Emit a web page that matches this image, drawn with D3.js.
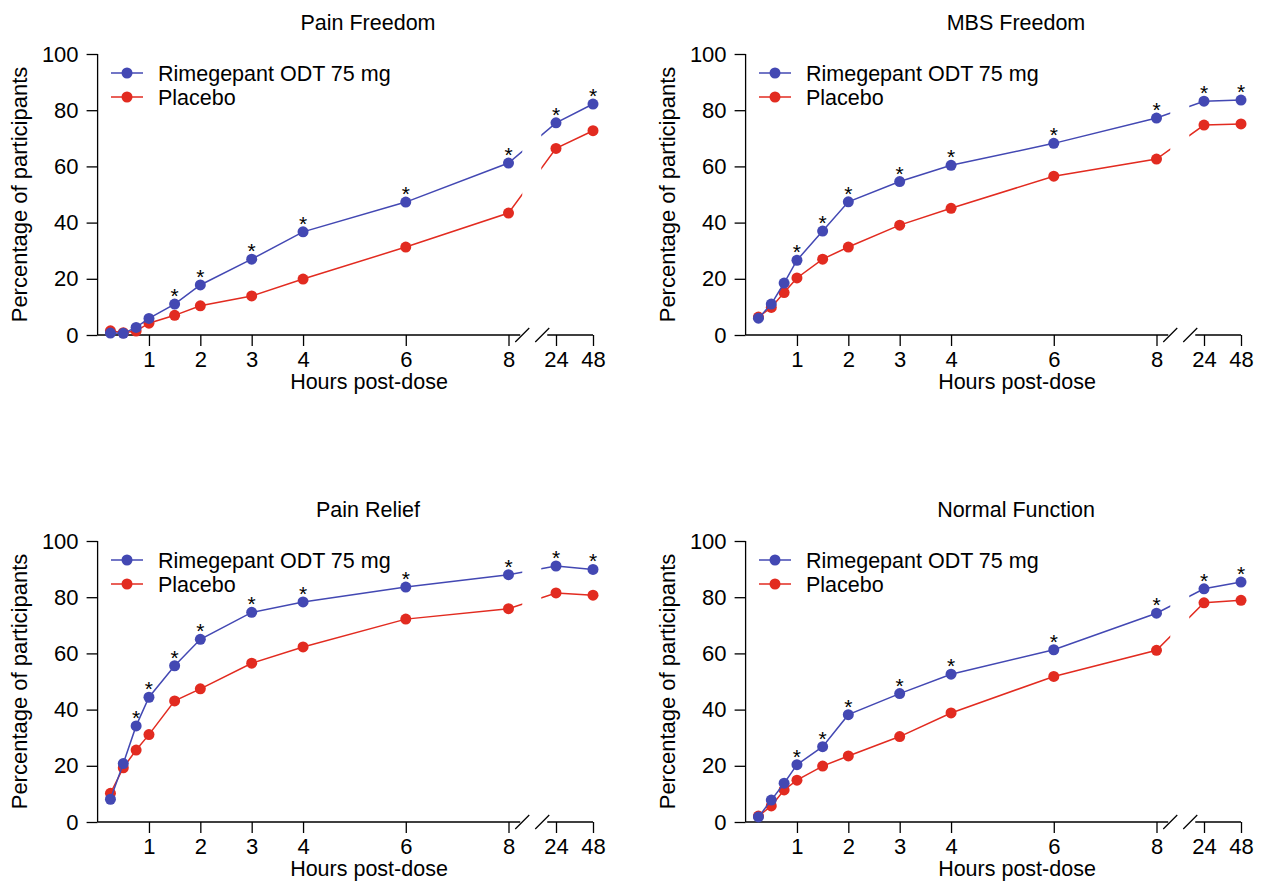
<!DOCTYPE html>
<html>
<head>
<meta charset="utf-8">
<script src="https://cdn.jsdelivr.net/npm/d3@7"></script>
<style>
  body { margin: 0; background: #fff; }
  svg { font-family: "Liberation Sans", Arial, sans-serif; }
</style>
</head>
<body>
<div id="chart"></div>
<script>
const WIDTH = 1266;
const HEIGHT = 881;

const BLUE = '#4348b3';
const RED = '#e22b20';

// time points (hours post-dose)
const hours = [0.25, 0.5, 0.75, 1, 1.5, 2, 3, 4, 6, 8, 24, 48];
const xTicks = [1, 2, 3, 4, 6, 8, 24, 48];
const yTicks = [0, 20, 40, 60, 80, 100];
const seriesNames = ['Rimegepant ODT 75 mg', 'Placebo'];

const titles = ['Pain Freedom', 'MBS Freedom', 'Pain Relief', 'Normal Function'];

// percentage of participants
const painFreedomRim = [0.7, 0.6, 2.7, 5.9, 11.0, 17.8, 27.0, 36.7, 47.3, 61.2, 75.5, 82.2];
const painFreedomPbo = [1.5, 0.8, 1.4, 4.2, 7.0, 10.4, 13.9, 19.9, 31.3, 43.4, 66.4, 72.7];

const mbsFreedomRim = [6.0, 11.0, 18.5, 26.6, 37.0, 47.4, 54.6, 60.4, 68.2, 77.2, 83.2, 83.6];
const mbsFreedomPbo = [6.4, 9.8, 15.1, 20.3, 27.0, 31.3, 39.1, 45.1, 56.5, 62.6, 74.7, 75.1];

const painReliefRim = [8.1, 20.8, 34.2, 44.4, 55.6, 65.0, 74.6, 78.3, 83.6, 88.0, 91.1, 89.9];
const painReliefPbo = [10.2, 19.3, 25.6, 31.1, 43.1, 47.4, 56.5, 62.3, 72.2, 75.9, 81.5, 80.7];

const normalFunctionRim = [1.8, 7.8, 13.8, 20.4, 26.8, 38.2, 45.7, 52.6, 61.3, 74.3, 83.0, 85.4];
const normalFunctionPbo = [2.1, 5.7, 11.4, 14.9, 19.9, 23.5, 30.4, 38.8, 51.8, 61.1, 78.0, 78.9];

// hours with a significance asterisk over the rimegepant point
const painFreedomSig = [1.5, 2, 3, 4, 6, 8, 24, 48];
const mbsFreedomSig = [1, 1.5, 2, 3, 4, 6, 8, 24, 48];
const painReliefSig = [0.75, 1, 1.5, 2, 3, 4, 6, 8, 24, 48];
const normalFunctionSig = [1, 1.5, 2, 3, 4, 6, 8, 24, 48];

const panels = [
    { title: titles[0], rim: painFreedomRim, pbo: painFreedomPbo, sig: painFreedomSig, dx: 0, dy: 0 },
    { title: titles[1], rim: mbsFreedomRim, pbo: mbsFreedomPbo, sig: mbsFreedomSig, dx: 648, dy: 0 },
    { title: titles[2], rim: painReliefRim, pbo: painReliefPbo, sig: painReliefSig, dx: 0, dy: 487 },
    { title: titles[3], rim: normalFunctionRim, pbo: normalFunctionPbo, sig: normalFunctionSig, dx: 648, dy: 487 },
];

var svg = d3.select('#chart')
    .append('svg')
    .attr('width', WIDTH)
    .attr('height', HEIGHT);

// shared scales, each panel is drawn in its own translated group
// the x axis is broken between 8 and 24 hours
var x = d3.scaleLinear()
    .domain([0, 8, 24, 48])
    .range([97.6, 508.5, 556, 593]);

var y = d3.scaleLinear()
    .domain([0, 100])
    .range([335, 54]);

const breakMid = (x(8) + x(24)) / 2;

var line = d3.line()
    .x(d => x(d.h))
    .y(d => y(d.v));

function drawPanel(p, idx) {
    let g = svg.append('g')
        .attr('transform', `translate(${p.dx},${p.dy})`);

    // clip that hides the lines inside the axis break
    let clipId = 'brk' + idx;
    let clip = g.append('clipPath').attr('id', clipId);
    clip.append('rect')
        .attr('x', 0).attr('y', 0)
        .attr('width', breakMid - 10).attr('height', 400);
    clip.append('rect')
        .attr('x', breakMid + 9).attr('y', 0)
        .attr('width', 200).attr('height', 400);

    // title
    g.append('text')
        .attr('x', 368)
        .attr('y', 30)
        .attr('text-anchor', 'middle')
        .attr('font-size', 21.5)
        .text(p.title);

    // y axis
    let yAxis = g.append('g')
        .attr('transform', `translate(${x(0)},0)`)
        .call(d3.axisLeft(y).tickValues(yTicks).tickSize(11).tickPadding(8));
    yAxis.select('.domain').attr('d', `M0,${y(100)}V${y(0)}`);

    // x axis in two pieces
    let xAxis = g.append('g')
        .attr('transform', `translate(0,${y(0)})`)
        .call(d3.axisBottom(x).tickValues(xTicks).tickSize(11).tickPadding(5).tickFormat(d3.format('d')));
    xAxis.select('.domain')
        .attr('d', `M${x(0)},0H${breakMid - 12}M${breakMid + 15},0H${x(48)}`);

    [breakMid - 10, breakMid + 10].forEach(cx => {
        xAxis.append('line')
            .attr('x1', cx - 7).attr('y1', 7)
            .attr('x2', cx + 7).attr('y2', -7)
            .attr('stroke', '#000')
            .attr('stroke-width', 1.3);
    });

    g.selectAll('.tick text')
        .attr('font-size', 22)
        .attr('font-family', '"Liberation Sans", Arial, sans-serif')
        .attr('fill', '#000');
    g.selectAll('.tick line, .domain')
        .attr('stroke', '#000')
        .attr('stroke-width', 1.3);

    // axis labels
    g.append('text')
        .attr('x', 369)
        .attr('y', 389)
        .attr('text-anchor', 'middle')
        .attr('font-size', 21.5)
        .text('Hours post-dose');

    g.append('text')
        .attr('transform', `translate(27,${(y(0) + y(100)) / 2}) rotate(-90)`)
        .attr('text-anchor', 'middle')
        .attr('font-size', 22)
        .text('Percentage of participants');

    // series: placebo first so rimegepant sits on top
    let series = [
        { name: seriesNames[1], color: RED, values: p.pbo },
        { name: seriesNames[0], color: BLUE, values: p.rim }
    ];

    series.forEach(s => {
        let pts = hours.map((h, i) => ({ h: h, v: s.values[i] }));

        g.append('path')
            .datum(pts)
            .attr('d', line)
            .attr('fill', 'none')
            .attr('stroke', s.color)
            .attr('stroke-width', 1.5)
            .attr('clip-path', `url(#${clipId})`);

        g.selectAll(null)
            .data(pts)
            .enter()
            .append('circle')
            .attr('cx', d => x(d.h))
            .attr('cy', d => y(d.v))
            .attr('r', 5.5)
            .attr('fill', s.color);
    });

    // asterisks
    g.selectAll(null)
        .data(p.sig)
        .enter()
        .append('text')
        .attr('x', d => x(d))
        .attr('y', d => y(p.rim[hours.indexOf(d)]) - 1)
        .attr('text-anchor', 'middle')
        .attr('font-size', 21)
        .text('*');

    // legend
    let legend = [
        { name: seriesNames[0], color: BLUE },
        { name: seriesNames[1], color: RED }
    ];
    legend.forEach((l, i) => {
        let ly = 73 + i * 24;
        g.append('line')
            .attr('x1', 111).attr('x2', 143)
            .attr('y1', ly).attr('y2', ly)
            .attr('stroke', l.color)
            .attr('stroke-width', 1.5);
        g.append('circle')
            .attr('cx', 127).attr('cy', ly)
            .attr('r', 5.5)
            .attr('fill', l.color);
        g.append('text')
            .attr('x', 158)
            .attr('y', ly)
            .attr('dy', '0.35em')
            .attr('font-size', 21.5)
            .text(l.name);
    });
}

panels.forEach(drawPanel);
</script>
</body>
</html>
